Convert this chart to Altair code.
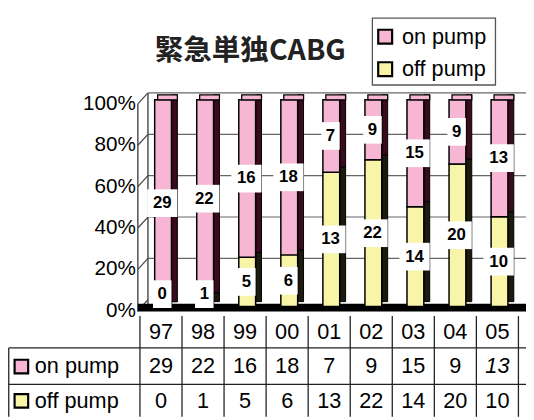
import altair as alt
import pandas as pd

# ---- data ----
years = ["97", "98", "99", "00", "01", "02", "03", "04", "05"]
on_pump = [29, 22, 16, 18, 7, 9, 15, 9, 13]
off_pump = [0, 1, 5, 6, 13, 22, 14, 20, 10]
series = ["on pump", "off pump"]
pct_ticks = [0, 20, 40, 60, 80, 100]
title_text = "緊急単独CABG"

PINK = "#f6b6d4"
YELLOW = "#f8f5a8"
DARK_PINK = "#3a0b1d"
DARK_YEL = "#1c1a0c"
FONT = "Liberation Sans"

# ---- scales (chart is 526 x 412, plot area = whole chart) ----
XS = alt.Scale(domain=[-3.138, 9.18], nice=False, zero=False)
YS = alt.Scale(domain=[-53.33, 142.86], nice=False, zero=False)


def X(f):
    return alt.X(f, type="quantitative", scale=XS, axis=None)


def Y(f):
    return alt.Y(f, type="quantitative", scale=YS, axis=None)


# ---- derived tables ----
rows = []
for i, (yr, on, off) in enumerate(zip(years, on_pump, off_pump)):
    tot = on + off
    offp = off / tot * 100
    rows.append(dict(i=i, year=yr, series="off pump", value=off, y0=0.0, y1=offp))
    rows.append(dict(i=i, year=yr, series="on pump", value=on, y0=offp, y1=100.0))
seg = pd.DataFrame(rows)
seg["xf0"] = seg.i + 0.35
seg["xf1"] = seg.i + 0.75
seg["xs1"] = seg.i + 0.89
seg["ys0"] = seg.y0 + 2.4
seg["ys1"] = seg.y1 + 2.4
seg["sidecol"] = seg.series.map({"on pump": DARK_PINK, "off pump": DARK_YEL})
seg["xc"] = seg.i + 0.53
seg["ym"] = ((seg.y0 + seg.y1) / 2).clip(lower=6)
seg["hw"] = seg.value.astype(str).str.len().map({1: 0.22, 2: 0.36})
seg["bx0"] = seg.xc - seg.hw
seg["bx1"] = seg.xc + seg.hw
seg["by0"] = seg.ym - 6.7
seg["by1"] = seg.ym + 6.7
seg["label"] = seg.value.astype(str)

top = seg[seg.series == "on pump"].copy()
top["tx0"] = top.i + 0.42
top["tx1"] = top.i + 0.89
top["ty0"] = 100.0
top["ty1"] = 102.4

grid = pd.DataFrame({"v": pct_ticks})
grid["gy"] = grid.v + 3.3
grid["ly"] = grid.v - 2.0
grid["lab"] = grid.v.astype(str) + "%"
grid["x0"] = -0.05
grid["x1"] = 0.19
grid["x2"] = 9.18
grid_lines = grid[grid.v > 0]

walls = pd.DataFrame({"x": [-0.05, 0.19], "ya": [-2.4, 1.3], "yb": [98.0, 103.3]})
floor = pd.DataFrame({"x0": [-0.05], "x1": [9.18], "y0": [-2.4], "y1": [1.4]})

# table geometry (in value units)
ROW_TEXT = [-12.4, -29.0, -45.6]
tab_cells = []
for i, yr in enumerate(years):
    tab_cells.append(dict(x=i + 0.5, y=ROW_TEXT[0], t=yr, it=False))
    tab_cells.append(dict(x=i + 0.5, y=ROW_TEXT[1], t=str(on_pump[i]),
                          it=(i == len(years) - 1)))
    tab_cells.append(dict(x=i + 0.5, y=ROW_TEXT[2], t=str(off_pump[i]), it=False))
tab = pd.DataFrame(tab_cells)

vlines = pd.DataFrame({"x": list(range(len(years) + 1)), "ya": -4.6, "yb": -53.3})
vlines = pd.concat([vlines, pd.DataFrame({"x": [-3.12], "ya": [-20.0], "yb": [-53.3]})])
hlines = pd.DataFrame({"y": [-20.0, -37.6], "xa": -3.12, "xb": 9.18})

rowlab = pd.DataFrame({
    "t": series,
    "y": ROW_TEXT[1:],
    "sx": -2.82,
    "tx": -2.50,
    "fill": [PINK, YELLOW],
})

# legend (drawn as a box in pixel space)
leg = pd.DataFrame({"t": series, "fill": [PINK, YELLOW], "k": [0, 1]})

# ---- layers ----
gl = alt.Chart(grid_lines).mark_rule(color="#666", strokeWidth=1.2).encode(
    x=X("x1"), x2="x2", y=Y("gy"))
ticks = alt.Chart(grid).mark_rule(color="#444", strokeWidth=1.2).encode(
    x=X("x0"), x2="x1", y=Y("ly"), y2="gy")
wl = alt.Chart(walls).mark_rule(color="#444", strokeWidth=1.4).encode(
    x=X("x"), y=Y("ya"), y2="yb")
fl = alt.Chart(floor).mark_rect(color="black").encode(
    x=X("x0"), x2="x1", y=Y("y0"), y2="y1")
side = alt.Chart(seg).mark_rect(stroke="black", strokeWidth=1).encode(
    x=X("xf1"), x2="xs1", y=Y("ys0"), y2="ys1",
    fill=alt.Fill("sidecol:N", scale=None))
front = alt.Chart(seg).mark_rect(stroke="black", strokeWidth=1.5).encode(
    x=X("xf0"), x2="xf1", y=Y("y0"), y2="y1",
    fill=alt.Fill("series:N",
                  scale=alt.Scale(domain=series, range=[PINK, YELLOW]),
                  legend=None))
topf = alt.Chart(top).mark_rect(fill=PINK, stroke="black", strokeWidth=1.3).encode(
    x=X("tx0"), x2="tx1", y=Y("ty0"), y2="ty1")
boxes = alt.Chart(seg).mark_rect(fill="white").encode(
    x=X("bx0"), x2="bx1", y=Y("by0"), y2="by1")
labels = alt.Chart(seg).mark_text(font=FONT, fontSize=17, fontWeight="bold",
                                  color="black", baseline="middle").encode(
    x=X("xc"), y=Y("ym"), text="label:N")
ylabs = alt.Chart(grid).mark_text(font=FONT, fontSize=21, color="black",
                                  align="right", baseline="middle", dx=-2).encode(
    x=X("x0"), y=Y("ly"), text="lab:N")

tv = alt.Chart(vlines).mark_rule(color="#222", strokeWidth=1.3).encode(
    x=X("x"), y=Y("ya"), y2="yb")
th = alt.Chart(hlines).mark_rule(color="#222", strokeWidth=1.3).encode(
    x=X("xa"), x2="xb", y=Y("y"))
ttext = alt.Chart(tab[~tab.it]).mark_text(font=FONT, fontSize=22, color="black",
                                          baseline="middle").encode(
    x=X("x"), y=Y("y"), text="t:N")
ttext_it = alt.Chart(tab[tab.it]).mark_text(font=FONT, fontSize=22, color="black",
                                            fontStyle="italic",
                                            baseline="middle").encode(
    x=X("x"), y=Y("y"), text="t:N")
rsq = alt.Chart(rowlab).mark_square(size=190, opacity=1, stroke="black",
                                    strokeWidth=2.2).encode(
    x=X("sx"), y=Y("y"), fill=alt.Fill("fill:N", scale=None))
rtxt = alt.Chart(rowlab).mark_text(font=FONT, fontSize=22, color="black",
                                   align="left", baseline="middle").encode(
    x=X("tx"), y=Y("y"), text="t:N")

title = alt.Chart(pd.DataFrame({"t": [title_text]})).mark_text(
    font="Noto Sans CJK JP", fontSize=29, fontWeight="bold", color="#222",
    align="center", baseline="middle").encode(
    x=alt.value(246), y=alt.value(41), text="t:N")

# legend box
LY = alt.Scale(domain=[0, 1], range=[26, 59])
legbox = alt.Chart(pd.DataFrame({"a": [0]})).mark_rect(
    fill="white", stroke="#555", strokeWidth=1.3).encode(
    x=alt.value(370), x2=alt.value(495), y=alt.value(7), y2=alt.value(75))
legsq = alt.Chart(leg).mark_square(size=200, opacity=1, stroke="black",
                                   strokeWidth=2.2).encode(
    x=alt.value(383), y=alt.Y("k:Q", scale=LY, axis=None),
    fill=alt.Fill("fill:N", scale=None))
legtx = alt.Chart(leg).mark_text(font=FONT, fontSize=22, color="black",
                                 align="left", baseline="middle").encode(
    x=alt.value(400), y=alt.Y("k:Q", scale=LY, axis=None), text="t:N")
legend_layer = alt.layer(legbox, legsq, legtx).resolve_scale(y="independent")

chart = alt.layer(
    gl, ticks, wl, fl, side, front, topf, boxes, labels, ylabs,
    tv, th, ttext, ttext_it, rsq, rtxt, title, legend_layer
).resolve_scale(y="independent").properties(
    width=526, height=412, padding=0, autosize="none"
).configure_view(stroke=None)

chart.save("out.html", embed_options={"renderer": "svg", "actions": False})
